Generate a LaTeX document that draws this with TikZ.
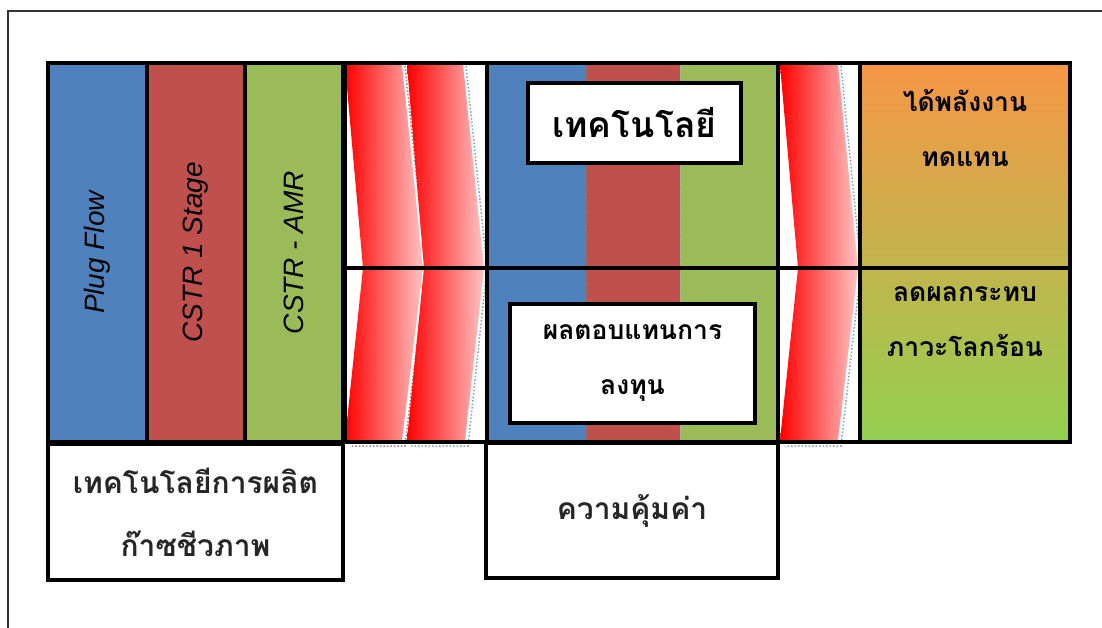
\documentclass[tikz,border=0pt]{standalone}
\usepackage{fontspec}
\setmainfont{Liberation Sans}
\newfontfamily\thai[Script=Thai]{Loma}
\definecolor{cblue}{HTML}{4F81BD}
\definecolor{cred}{HTML}{C0504D}
\definecolor{cgreen}{HTML}{9BBB59}
\definecolor{corange}{HTML}{F79646}
\definecolor{clime}{HTML}{92D050}
\definecolor{cpink}{HTML}{FFC4C4}
\definecolor{shbrown}{HTML}{9E7E84}
\definecolor{shteal}{HTML}{7FA3B2}
\begin{document}
\begin{tikzpicture}[x=1pt,y=-1pt,
  box/.style={inner sep=0pt, outer sep=0pt, draw=black, line width=4pt},
  fillcol/.style={inner sep=0pt, outer sep=0pt},
  thaibig/.style={font=\thai\bfseries\fontsize{35.5}{40}\selectfont},
  thaimid/.style={font=\thai\bfseries\fontsize{26.5}{55}\selectfont, align=center},
  thaibot/.style={font=\thai\bfseries\fontsize{30}{63}\selectfont, align=center, text=black!85},
  chev/.style={left color=red, right color=cpink},
  shadowline/.style={line width=1.5pt, dotted},
  sep/.style={line width=3.5pt, draw=black}]
\useasboundingbox (0,0) rectangle (1102,628);
\fill[white] (0,0) rectangle (1102,628);
\draw[line width=2pt, black!80] (8,628) -- (8,11) -- (1102,11);

% left block: technologies
\node[box, fill=cblue, minimum width=99pt, minimum height=379pt] (pf) at (97.5,252.5)
  {\rotatebox{90}{\fontsize{28}{30}\selectfont\itshape Plug Flow}};
\node[box, fill=cred, minimum width=98pt, minimum height=379pt] (cs1) at (196,252.5)
  {\rotatebox{90}{\fontsize{28}{30}\selectfont\itshape CSTR 1 Stage}};
\node[box, fill=cgreen, minimum width=98pt, minimum height=379pt] (amr) at (294,252.5)
  {\rotatebox{90}{\fontsize{28}{30}\selectfont\itshape CSTR - AMR}};
\node[box, fill=white, minimum width=295pt, minimum height=136pt, thaibot] (prod) at (195.5,512)
  {เทคโนโลยีการผลิต\\ก๊าซชีวภาพ};

% arrow region 1
\draw[shadowline, shbrown] (405,66) -- (426,268) -- (405,446) -- (350,446);
\draw[shadowline, shteal] (466,66) -- (487,268) -- (468,446) -- (410,446);
\shade[chev] (345,65) -- (402,65) -- (423,268) -- (402,440) -- (345,440) -- (363,268) -- cycle;
\shade[chev] (407,65) -- (463,65) -- (484,268) -- (465,440) -- (407,440) -- (424,268) -- cycle;
\node[box, minimum width=142pt, minimum height=379pt] (arr1) at (416,252.5) {};
\draw[sep] (arr1.west |- 0,268) -- (arr1.east |- 0,268);

% middle block: technology / return
\node[fillcol, fill=cblue, minimum width=99pt, minimum height=379pt] (mb) at (536.5,252.5) {};
\node[fillcol, fill=cred, minimum width=94pt, minimum height=379pt] (mr) at (633,252.5) {};
\node[fillcol, fill=cgreen, minimum width=98pt, minimum height=379pt] (mg) at (729,252.5) {};
\draw[black!50, densely dotted, line width=0.8pt] (mb.north east) -- (mb.south east);
\draw[white!70!black, densely dotted, line width=0.8pt] (mr.north east) -- (mr.south east);
\node[box, minimum width=291pt, minimum height=379pt] (mid) at (632.5,252.5) {};
\draw[sep] (mid.west |- 0,268) -- (mid.east |- 0,268);
\node[box, fill=white, minimum width=213pt, minimum height=80pt, thaibig] (tech) at (634.5,123) {เทคโนโลยี};
\node[box, fill=white, minimum width=245pt, minimum height=119pt, thaimid] (roi) at (632.5,363.5)
  {ผลตอบแทนการ\\ลงทุน};
\node[box, fill=white, minimum width=292pt, minimum height=135pt, thaibot] (worth) at (632,510.5) {ความคุ้มค่า};

% arrow region 2
\draw[shadowline, shteal] (841,66) -- (861,268) -- (841,446) -- (785,446);
\shade[chev] (780,65) -- (838,65) -- (858,268) -- (838,440) -- (780,440) -- (798,268) -- cycle;
\node[box, minimum width=82pt, minimum height=379pt] (arr2) at (819,252.5) {};
\draw[sep] (arr2.west |- 0,268) -- (arr2.east |- 0,268);

% right block: results
\node[box, top color=corange, bottom color=clime, minimum width=210pt, minimum height=379pt] (res) at (965,252.5) {};
\draw[sep] (res.west |- 0,268) -- (res.east |- 0,268);
\node[thaimid] (energy) at (965,128) {ได้พลังงาน\\ทดแทน};
\node[thaimid] (warm) at (965,322) {ลดผลกระทบ\\ภาวะโลกร้อน};
\end{tikzpicture}
\end{document}
